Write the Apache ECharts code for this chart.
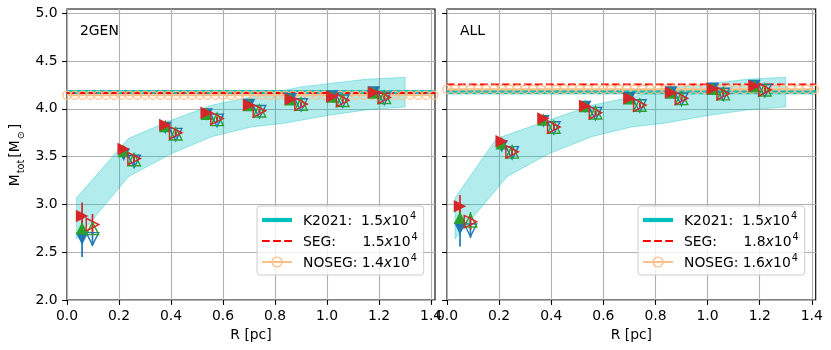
<!DOCTYPE html>
<html><head><meta charset="utf-8">
<script src="https://cdn.jsdelivr.net/npm/echarts@6/dist/echarts.min.js"></script>
<style>html,body{margin:0;padding:0;background:#fff}#c{width:831px;height:350px}</style>
</head><body><div id="c"></div>
<script>
// ---------------- data ----------------
const PANEL_LABELS = ['2GEN', 'ALL'];
const X_TICKS = [0.0, 0.2, 0.4, 0.6, 0.8, 1.0, 1.2, 1.4];
const Y_TICKS = [2.0, 2.5, 3.0, 3.5, 4.0, 4.5, 5.0];

// 2GEN panel
const R_FILL_GEN = [0.058, 0.218, 0.378, 0.537, 0.700, 0.860, 1.020, 1.180];
const R_OPEN_GEN = [0.098, 0.258, 0.418, 0.577, 0.740, 0.900, 1.060, 1.220];
const RED_FILL_GEN   = [2.88, 3.58, 3.83, 3.96, 4.04, 4.10, 4.13, 4.17];
const GREEN_FILL_GEN = [2.75, 3.56, 3.82, 3.95, 4.04, 4.10, 4.13, 4.17];
const BLUE_FILL_GEN  = [2.64, 3.52, 3.80, 3.94, 4.04, 4.10, 4.13, 4.17];
const RED_OPEN_GEN   = [2.79, 3.48, 3.75, 3.90, 3.98, 4.05, 4.09, 4.12];
const GREEN_OPEN_GEN = [2.75, 3.47, 3.74, 3.89, 3.98, 4.05, 4.09, 4.12];
const BLUE_OPEN_GEN  = [2.64, 3.45, 3.73, 3.88, 3.97, 4.04, 4.08, 4.11];
const RED_FILL_GEN_ERR   = [0.14, 0.03, 0.03, 0.02, 0.02, 0.02, 0.02, 0.02];
const GREEN_FILL_GEN_ERR = [0.05, 0.03, 0.02, 0.02, 0.02, 0.02, 0.02, 0.02];
const BLUE_FILL_GEN_ERR  = [0.19, 0.04, 0.03, 0.03, 0.02, 0.02, 0.02, 0.02];
const RED_OPEN_GEN_ERR   = [0.11, 0.03, 0.03, 0.02, 0.02, 0.02, 0.02, 0.02];
const GREEN_OPEN_GEN_ERR = [0.06, 0.03, 0.02, 0.02, 0.02, 0.02, 0.02, 0.02];
const BLUE_OPEN_GEN_ERR  = [0.07, 0.04, 0.03, 0.03, 0.02, 0.02, 0.02, 0.02];
const K2021_GEN = 4.176, SEG_GEN = 4.166, NOSEG_GEN = 4.143;

// ALL panel
const R_FILL_ALL = [0.050, 0.210, 0.370, 0.530, 0.700, 0.860, 1.020, 1.180];
const R_OPEN_ALL = [0.090, 0.250, 0.410, 0.570, 0.740, 0.900, 1.060, 1.220];
const RED_FILL_ALL   = [2.98, 3.66, 3.90, 4.03, 4.11, 4.17, 4.21, 4.24];
const GREEN_FILL_ALL = [2.86, 3.64, 3.89, 4.03, 4.11, 4.17, 4.21, 4.24];
const BLUE_FILL_ALL  = [2.75, 3.61, 3.87, 4.02, 4.11, 4.17, 4.21, 4.24];
const RED_OPEN_ALL   = [2.82, 3.55, 3.81, 3.96, 4.04, 4.11, 4.16, 4.20];
const GREEN_OPEN_ALL = [2.83, 3.55, 3.81, 3.96, 4.04, 4.11, 4.16, 4.20];
const BLUE_OPEN_ALL  = [2.73, 3.54, 3.80, 3.95, 4.03, 4.10, 4.15, 4.19];
const RED_FILL_ALL_ERR   = [0.12, 0.03, 0.03, 0.02, 0.02, 0.02, 0.02, 0.02];
const GREEN_FILL_ALL_ERR = [0.08, 0.03, 0.02, 0.02, 0.02, 0.02, 0.02, 0.02];
const BLUE_FILL_ALL_ERR  = [0.19, 0.04, 0.03, 0.03, 0.02, 0.02, 0.02, 0.02];
const RED_OPEN_ALL_ERR   = [0.08, 0.03, 0.03, 0.02, 0.02, 0.02, 0.02, 0.02];
const GREEN_OPEN_ALL_ERR = [0.09, 0.03, 0.02, 0.02, 0.02, 0.02, 0.02, 0.02];
const BLUE_OPEN_ALL_ERR  = [0.08, 0.04, 0.03, 0.03, 0.02, 0.02, 0.02, 0.02];
const K2021_ALL = 4.176, SEG_ALL = 4.255, NOSEG_ALL = 4.204;

// K2021 observed band (upper / lower edges)
const BAND_UP_R_GEN = [0.037, 0.236, 0.400, 0.560, 0.700, 0.900, 1.150, 1.300];
const BAND_UP_R_ALL = [0.031, 0.190, 0.390, 0.560, 0.700, 0.900, 1.150, 1.300];
const BAND_UP_V     = [3.07, 3.69, 3.88, 4.04, 4.12, 4.23, 4.31, 4.33];
const BAND_LO_R_GEN = [0.037, 0.236, 0.400, 0.558, 0.707, 0.835, 1.000, 1.155, 1.300];
const BAND_LO_R_ALL = [0.031, 0.230, 0.390, 0.557, 0.707, 0.835, 1.000, 1.155, 1.300];
const BAND_LO_V     = [2.64, 3.29, 3.53, 3.71, 3.81, 3.85, 3.93, 3.99, 4.02];

// horizontal reference lines span and NOSEG marker positions
const HLINE_R = [0.0, 1.415];
const NOSEG_MARK_R = [0.00,0.03,0.06,0.09,0.12,0.15,0.18,0.21,0.24,0.27,0.30,0.33,0.36,0.39,0.42,0.45,
  0.48,0.51,0.54,0.57,0.60,0.63,0.66,0.69,0.72,0.75,0.78,0.81,0.84,0.87,0.90,0.93,0.96,0.99,1.02,1.05,
  1.08,1.11,1.14,1.17,1.20,1.23,1.26,1.29,1.32,1.35,1.38,1.41];

// legend texts
const LEG_NAME = {K: 'K2021:  ', SEG: 'SEG:      ', NOSEG: 'NOSEG: '};
const LEG_VAL_GEN = {K: '1.5', SEG: '1.5', NOSEG: '1.4'};
const LEG_VAL_ALL = {K: '1.5', SEG: '1.8', NOSEG: '1.6'};

// ---------------- styling ----------------
const FONT = 'DejaVu Sans';
const FS = 13.9;
const C_BLUE = '#1f77b4', C_GREEN = '#2ca02c', C_RED = '#d62728';
const C_CYAN = '#00bfbf', C_SEG = '#ff0000', C_NOSEG = '#ffbf86';
const GRID_C = '#b0b0b0';
const MS = 12.5;

const chart = echarts.init(document.getElementById('c'), null, {renderer: 'canvas'});

function bandSeries(gi, upR, upV, loR, loV) {
  return {
    type: 'custom', xAxisIndex: gi, yAxisIndex: gi, z: 1, silent: true,
    data: [[upR[0], upV[0]]],
    renderItem(params, api) {
      const pts = [];
      for (let i = 0; i < upR.length; i++) pts.push(api.coord([upR[i], upV[i]]));
      for (let i = loR.length - 1; i >= 0; i--) pts.push(api.coord([loR[i], loV[i]]));
      return {type: 'polygon', shape: {points: pts},
        style: {fill: 'rgba(0,191,191,0.3)', stroke: 'rgba(0,191,191,0.35)', lineWidth: 1}};
    }
  };
}
function errSeries(gi, R, V, E, color) {
  return {
    type: 'custom', xAxisIndex: gi, yAxisIndex: gi, z: 3, silent: true,
    dimensions: ['x', 'y', 'e'], encode: {x: 0, y: 1},
    data: R.map((r, i) => [r, V[i], E[i]]),
    renderItem(params, api) {
      const x = api.value(0), y = api.value(1), e = api.value(2);
      const p1 = api.coord([x, y - e]), p2 = api.coord([x, y + e]);
      return {type: 'line', shape: {x1: p1[0], y1: p1[1], x2: p2[0], y2: p2[1]},
        style: {stroke: color, lineWidth: 1.7}};
    }
  };
}
function markSeries(gi, R, V, color, rot, filled) {
  return {
    type: 'scatter', xAxisIndex: gi, yAxisIndex: gi, z: 3, silent: true,
    symbol: 'triangle', symbolSize: MS, symbolRotate: rot,
    data: R.map((r, i) => [r, V[i]]),
    itemStyle: filled ? {color: color, opacity: 1}
                      : {color: 'none', borderColor: color, borderWidth: 1.4, opacity: 1}
  };
}
function hlines(gi, tag, kv, sv, nv) {
  return [
    {type: 'line', name: 'K_' + tag, xAxisIndex: gi, yAxisIndex: gi, z: 2, silent: true,
      data: HLINE_R.map(r => [r, kv]), symbol: 'none',
      itemStyle: {color: C_CYAN}, lineStyle: {color: C_CYAN, width: 4.2}},
    {type: 'line', name: 'SEG_' + tag, xAxisIndex: gi, yAxisIndex: gi, z: 2, silent: true,
      data: HLINE_R.map(r => [r, sv]), symbol: 'none',
      itemStyle: {color: C_SEG}, lineStyle: {color: C_SEG, width: 2.1, type: [7.7, 3.3]}},
    {type: 'line', name: 'NOSEG_' + tag, xAxisIndex: gi, yAxisIndex: gi, z: 2, silent: true,
      data: NOSEG_MARK_R.map(r => [r, nv]), symbol: 'circle', symbolSize: 8.3, showAllSymbol: true,
      itemStyle: {color: 'none', borderColor: C_NOSEG, borderWidth: 1.3},
      lineStyle: {color: C_NOSEG, width: 2.1}}
  ];
}
function panelSeries(gi, d) {
  return [
    bandSeries(gi, d.upR, BAND_UP_V, d.loR, BAND_LO_V),
    ...hlines(gi, d.tag, d.k, d.s, d.n),
    errSeries(gi, d.rf, d.bf, d.bfe, C_BLUE),  markSeries(gi, d.rf, d.bf, C_BLUE, 180, true),
    errSeries(gi, d.rf, d.gf, d.gfe, C_GREEN), markSeries(gi, d.rf, d.gf, C_GREEN, 0, true),
    errSeries(gi, d.rf, d.rdf, d.rdfe, C_RED), markSeries(gi, d.rf, d.rdf, C_RED, -90, true),
    errSeries(gi, d.ro, d.bo, d.boe, C_BLUE),  markSeries(gi, d.ro, d.bo, C_BLUE, 180, false),
    errSeries(gi, d.ro, d.go, d.goe, C_GREEN), markSeries(gi, d.ro, d.go, C_GREEN, 0, false),
    errSeries(gi, d.ro, d.rdo, d.rdoe, C_RED), markSeries(gi, d.ro, d.rdo, C_RED, -90, false)
  ];
}

const legendText = {};
['K', 'SEG', 'NOSEG'].forEach(k => {
  legendText[k + '_GEN'] = '{n|' + LEG_NAME[k] + '}{v|' + LEG_VAL_GEN[k] + '}{i|x}{v|10}{s|4}';
  legendText[k + '_ALL'] = '{n|' + LEG_NAME[k] + '}{v|' + LEG_VAL_ALL[k] + '}{i|x}{v|10}{s|4}';
});
const legendRich = {
  n: {fontFamily: FONT, fontSize: FS, color: '#000', padding: [0, 0, 0, 6], verticalAlign: 'bottom', lineHeight: 16},
  v: {fontFamily: FONT, fontSize: FS, color: '#000', verticalAlign: 'bottom', lineHeight: 16},
  i: {fontFamily: FONT, fontSize: FS, color: '#000', fontStyle: 'italic', verticalAlign: 'bottom', lineHeight: 16},
  s: {fontFamily: FONT, fontSize: 9.7, color: '#000', verticalAlign: 'bottom', padding: [0, 0, 7, 1], lineHeight: 10}
};
const ICON_THICK = 'path://M0,0H30V4.2H0Z';
const ICON_DASH = 'path://M0,0H7.7V2.1H0Z M11,0H18.7V2.1H11Z M22,0H29.7V2.1H22Z';
const ICON_LINE_RING = 'path://M0,5.95H30V8.05H0Z M20.6,7A5.6,5.6 0 1 1 9.4,7A5.6,5.6 0 1 1 20.6,7Z M19.3,7A4.3,4.3 0 1 0 10.7,7A4.3,4.3 0 1 0 19.3,7Z';
function legendOf(tag, left) {
  return {
    data: [
      {name: 'K_' + tag, icon: ICON_THICK},
      {name: 'SEG_' + tag, icon: ICON_DASH},
      {name: 'NOSEG_' + tag, icon: ICON_LINE_RING, itemStyle: {color: C_NOSEG, borderWidth: 0}}
    ],
    orient: 'vertical',
    left: left, top: 206, itemWidth: 30, itemHeight: 14, itemGap: 4,
    padding: [5, 6, 5, 5], backgroundColor: 'rgba(255,255,255,0.8)',
    borderColor: '#cccccc', borderWidth: 1, borderRadius: 3,
    selectedMode: false,
    formatter: name => legendText[name],
    textStyle: {fontFamily: FONT, fontSize: FS, color: '#000', rich: legendRich}
  };
}

function xAxisOf(gi) {
  return {
    gridIndex: gi, type: 'value', min: 0, max: 1.415, interval: 0.2,
    axisLine: {show: false},
    axisTick: {show: true, inside: false, length: 4.9, customValues: X_TICKS, lineStyle: {color: '#000', width: 1.1}},
    axisLabel: {show: true, customValues: X_TICKS, color: '#000', fontFamily: FONT, fontSize: FS, margin: 9.5,
      formatter: v => v.toFixed(1)},
    splitLine: {show: true, lineStyle: {color: GRID_C, width: 1.1}},
    name: 'R [pc]', nameLocation: 'middle', nameGap: 28,
    nameTextStyle: {color: '#000', fontFamily: FONT, fontSize: FS}
  };
}
function yAxisOf(gi, labels) {
  return {
    gridIndex: gi, type: 'value', min: 2, max: 5.045, interval: 0.5,
    axisLine: {show: false},
    axisTick: {show: true, inside: false, length: 4.9, customValues: Y_TICKS, lineStyle: {color: '#000', width: 1.1}},
    axisLabel: {show: labels, customValues: Y_TICKS, color: '#000', fontFamily: FONT, fontSize: FS, margin: 9.5,
      formatter: v => v.toFixed(1)},
    splitLine: {show: true, lineStyle: {color: GRID_C, width: 1.1}}
  };
}

const option = {
  animation: false,
  backgroundColor: '#fff',
  grid: [
    {left: 67, top: 9, width: 368, height: 291, show: true, borderColor: '#000', borderWidth: 1.1, backgroundColor: 'transparent'},
    {left: 447, top: 9, width: 368.7, height: 291, show: true, borderColor: '#000', borderWidth: 1.1, backgroundColor: 'transparent'}
  ],
  xAxis: [xAxisOf(0), xAxisOf(1)],
  yAxis: [
    Object.assign(yAxisOf(0, true), {
      name: '{a|M}{b|tot}{a|[M}{b|⊙}{a|]}', nameLocation: 'middle', nameGap: 41, nameRotate: 90,
      nameTextStyle: {rich: {
        a: {fontFamily: FONT, fontSize: FS, color: '#000', verticalAlign: 'bottom', padding: [0, 1, 4, 0]},
        b: {fontFamily: FONT, fontSize: 9.7, color: '#000', verticalAlign: 'bottom', padding: [0, 2, 0, 0]}
      }}
    }),
    yAxisOf(1, false)
  ],
  legend: [legendOf('GEN', 257), legendOf('ALL', 638)],
  graphic: [
    {type: 'text', left: 80, top: 24, style: {text: PANEL_LABELS[0], fontFamily: FONT, fontSize: FS, fill: '#000'}},
    {type: 'text', left: 460, top: 24, style: {text: PANEL_LABELS[1], fontFamily: FONT, fontSize: FS, fill: '#000'}}
  ],
  series: [
    ...panelSeries(0, {tag: 'GEN', upR: BAND_UP_R_GEN, loR: BAND_LO_R_GEN, k: K2021_GEN, s: SEG_GEN, n: NOSEG_GEN,
      rf: R_FILL_GEN, ro: R_OPEN_GEN,
      bf: BLUE_FILL_GEN, gf: GREEN_FILL_GEN, rdf: RED_FILL_GEN, bo: BLUE_OPEN_GEN, go: GREEN_OPEN_GEN, rdo: RED_OPEN_GEN,
      bfe: BLUE_FILL_GEN_ERR, gfe: GREEN_FILL_GEN_ERR, rdfe: RED_FILL_GEN_ERR,
      boe: BLUE_OPEN_GEN_ERR, goe: GREEN_OPEN_GEN_ERR, rdoe: RED_OPEN_GEN_ERR}),
    ...panelSeries(1, {tag: 'ALL', upR: BAND_UP_R_ALL, loR: BAND_LO_R_ALL, k: K2021_ALL, s: SEG_ALL, n: NOSEG_ALL,
      rf: R_FILL_ALL, ro: R_OPEN_ALL,
      bf: BLUE_FILL_ALL, gf: GREEN_FILL_ALL, rdf: RED_FILL_ALL, bo: BLUE_OPEN_ALL, go: GREEN_OPEN_ALL, rdo: RED_OPEN_ALL,
      bfe: BLUE_FILL_ALL_ERR, gfe: GREEN_FILL_ALL_ERR, rdfe: RED_FILL_ALL_ERR,
      boe: BLUE_OPEN_ALL_ERR, goe: GREEN_OPEN_ALL_ERR, rdoe: RED_OPEN_ALL_ERR})
  ]
};
chart.setOption(option);
</script></body></html>
